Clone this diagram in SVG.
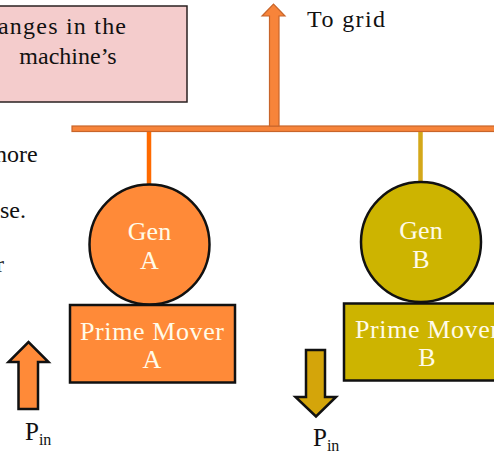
<svg xmlns="http://www.w3.org/2000/svg" width="494" height="454" viewBox="0 0 494 454">
  <style>
    text { font-family: "Liberation Serif", "DejaVu Serif", serif; }
    .dark { fill: #111; font-size: 24px; }
    .lbl { fill: #fffbe8; font-size: 26px; text-anchor: middle; }
    .sub { font-size: 16px; }
    .shape { stroke: #111; stroke-width: 2.5; }
    .orange { fill: #ff8a38; }
    .gold { fill: #cdb400; }
  </style>

  <!-- Note box (extends past the left edge) -->
  <g id="note">
    <rect x="-6" y="6" width="193" height="96" fill="#f4cccc" stroke="#2a2020" stroke-width="1.5"/>
    <text class="dark" x="-2" y="34" textLength="128" lengthAdjust="spacing">anges in the</text>
    <text class="dark" x="68" y="64" text-anchor="middle">machine’s</text>
  </g>

  <!-- Side text (clipped at the left edge) -->
  <g id="side-text">
    <text class="dark" x="-5" y="162">nore</text>
    <text class="dark" x="0" y="218">se.</text>
    <text class="dark" x="-4" y="272">r</text>
  </g>

  <!-- Connectors: bus bar, feeders and output arrow -->
  <g id="connectors">
    <rect x="72" y="126" width="426" height="5.5" fill="#f7843a" stroke="#c8652a" stroke-width="1.2"/>
    <path d="M269.5,126 V16 H262 L273.5,4 L285,16 H279 V126 Z" fill="#f7843a" stroke="#c8652a" stroke-width="1.2"/>
    <line x1="149" y1="132" x2="149" y2="185" stroke="#ff6a00" stroke-width="4.5"/>
    <line x1="420.5" y1="132" x2="420.5" y2="183" stroke="#d4a81a" stroke-width="4.5"/>
  </g>

  <text class="dark" x="307" y="27" textLength="78" lengthAdjust="spacing">To grid</text>

  <!-- Unit A -->
  <g id="gen-a">
    <circle class="shape orange" cx="149.5" cy="244.5" r="60"/>
    <text class="lbl" x="149.5" y="240">Gen</text>
    <text class="lbl" x="149.5" y="269">A</text>
  </g>
  <g id="prime-mover-a">
    <rect class="shape orange" x="70" y="305" width="165" height="77.5"/>
    <text class="lbl" x="80" y="340" style="text-anchor:start" textLength="144" lengthAdjust="spacing">Prime Mover</text>
    <text class="lbl" x="152" y="368">A</text>
  </g>
  <g id="pin-a">
    <path class="shape orange" d="M18.5,409 V362 H8.5 L28.5,342 L48.5,362 H38 V409 Z"/>
    <text class="dark" x="25" y="440" style="font-size:25px">P<tspan class="sub" dy="5">in</tspan></text>
  </g>

  <!-- Unit B -->
  <g id="gen-b">
    <circle class="shape gold" cx="421" cy="242" r="60"/>
    <text class="lbl" x="421" y="239">Gen</text>
    <text class="lbl" x="421" y="268">B</text>
  </g>
  <g id="prime-mover-b">
    <rect class="shape gold" x="344" y="303.5" width="160" height="77"/>
    <text class="lbl" x="355" y="338" style="text-anchor:start" textLength="144" lengthAdjust="spacing">Prime Mover</text>
    <text class="lbl" x="427" y="366">B</text>
  </g>
  <g id="pin-b">
    <path class="shape" fill="#d4a50a" d="M306,350 H325 V397 H336 L316,416.5 L295.5,397 H306 Z"/>
    <text class="dark" x="313" y="446" style="font-size:25px">P<tspan class="sub" dy="5">in</tspan></text>
  </g>
</svg>
